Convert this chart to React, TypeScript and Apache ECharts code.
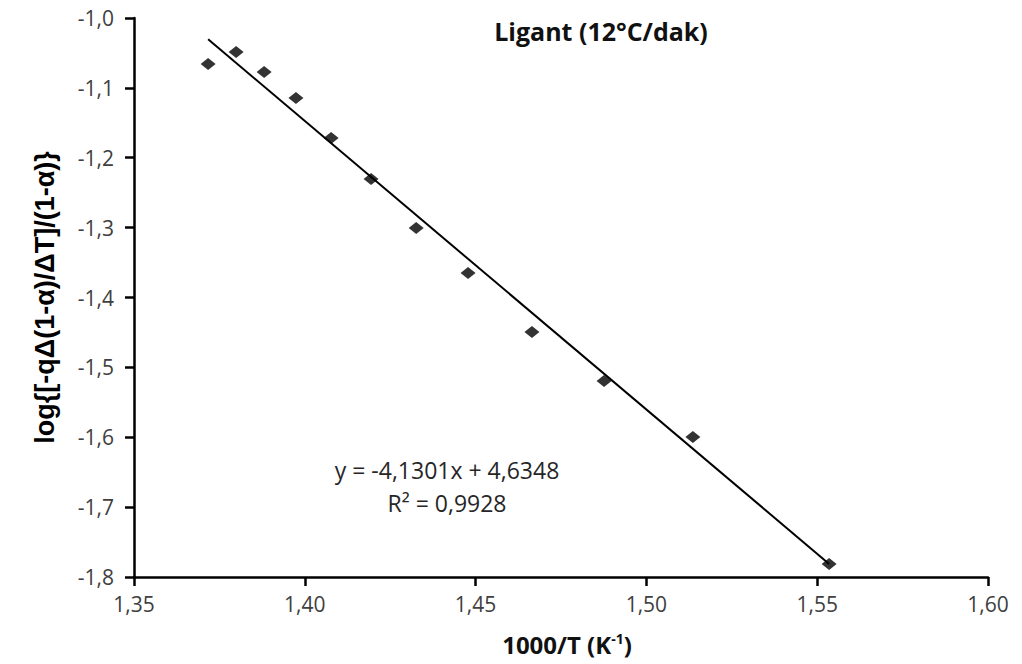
import React, { useEffect, useRef } from "react";
import * as echarts from "echarts";

const xValues = [1.3717, 1.3799, 1.3881, 1.3974, 1.4077, 1.4194, 1.4326, 1.4478, 1.4665, 1.4876, 1.5136, 1.5535];
const yValues = [-1.0658, -1.0487, -1.0773, -1.1145, -1.1717, -1.2304, -1.3005, -1.3649, -1.4494, -1.5195, -1.5996, -1.7814];
const slope = -4.1301;
const intercept = 4.6348;
const rSquared = 0.9928;
const titleText = "Ligant (12°C/dak)";
const yAxisName = "log{[-qΔ(1-α)/ΔT]/(1-α)}";

const fmt = (v: number, d: number) => v.toFixed(d).replace(".", ",");
const FONT = "'Open Sans', Lato, sans-serif";

export default function App() {
  const ref = useRef<HTMLDivElement>(null);
  useEffect(() => {
    if (!ref.current) return;
    const chart = echarts.init(ref.current, undefined, { renderer: "svg" });
    const points = xValues.map((x, i) => [x, yValues[i]]);
    const xMin = Math.min(...xValues);
    const xMax = Math.max(...xValues);
    const trend = [
      [xMin, slope * xMin + intercept],
      [xMax, slope * xMax + intercept],
    ];
    const eq1 = `y = ${fmt(slope, 4)}x + ${fmt(intercept, 4)}`;
    const eq2 = `R² = ${fmt(rSquared, 4)}`;
    chart.setOption({
      animation: false,
      backgroundColor: "#ffffff",
      grid: { left: 134, right: 34, top: 18, bottom: 87 },
      title: {
        text: titleText,
        left: 596,
        top: 13,
        textAlign: "center",
        textStyle: { fontFamily: FONT, fontWeight: "bold", fontSize: 25, color: "#111" },
      },
      xAxis: {
        type: "value",
        min: 1.35,
        max: 1.6,
        interval: 0.05,
        splitLine: { show: false },
        axisLine: { onZero: false, lineStyle: { color: "#000", width: 2.5 } },
        axisTick: { show: true, length: 9, lineStyle: { color: "#000", width: 2.5 } },
        axisLabel: {
          margin: 16,
          fontFamily: FONT,
          fontSize: 21,
          color: "#404040",
          formatter: (v: number) => fmt(v, 2),
        },
        name: "{a|1000/T (K}{s|-1}{a|)}",
        nameLocation: "middle",
        nameGap: 54,
        nameTextStyle: {
          padding: [0, 0, 0, 12],
          rich: {
            a: { fontFamily: FONT, fontWeight: "bold", fontSize: 24, color: "#111" },
            s: { fontFamily: FONT, fontWeight: "bold", fontSize: 14, color: "#111", verticalAlign: "top", padding: [0, 0, 12, 0] },
          },
        },
      },
      yAxis: {
        type: "value",
        min: -1.8,
        max: -1.0,
        interval: 0.1,
        splitLine: { show: false },
        axisLine: { onZero: false, lineStyle: { color: "#000", width: 2.5 } },
        axisTick: { show: true, length: 9, lineStyle: { color: "#000", width: 2.5 } },
        axisLabel: {
          margin: 20,
          fontFamily: FONT,
          fontSize: 21,
          color: "#404040",
          formatter: (v: number) => fmt(v, 1),
        },
        name: yAxisName,
        nameLocation: "middle",
        nameGap: 76,
        nameRotate: 90,
        nameTextStyle: {
          fontFamily: "'Liberation Sans Narrow', 'Liberation Sans', Arial",
          fontWeight: "bold",
          fontSize: 27,
          color: "#000",
        },
      },
      series: [
        {
          type: "line",
          data: trend,
          symbol: "none",
          lineStyle: { color: "#000", width: 2 },
          silent: true,
          z: 2,
        },
        {
          type: "scatter",
          data: points,
          symbol: "diamond",
          symbolSize: [15, 12],
          itemStyle: { color: "#000" },
          z: 3,
        },
      ],
      graphic: [
        {
          type: "text",
          x: 447,
          y: 470,
          style: {
            text: eq1,
            fontFamily: FONT,
            fontSize: 23,
            fill: "#262626",
            align: "center",
            verticalAlign: "middle",
          },
        },
        {
          type: "text",
          x: 447,
          y: 503,
          style: {
            text: eq2,
            fontFamily: FONT,
            fontSize: 23,
            fill: "#262626",
            align: "center",
            verticalAlign: "middle",
          },
        },
      ],
    });
    return () => chart.dispose();
  }, []);
  return (
    <div
      ref={ref}
      style={{ position: "absolute", left: 0, top: 0, width: 1022, height: 664 }}
    />
  );
}
